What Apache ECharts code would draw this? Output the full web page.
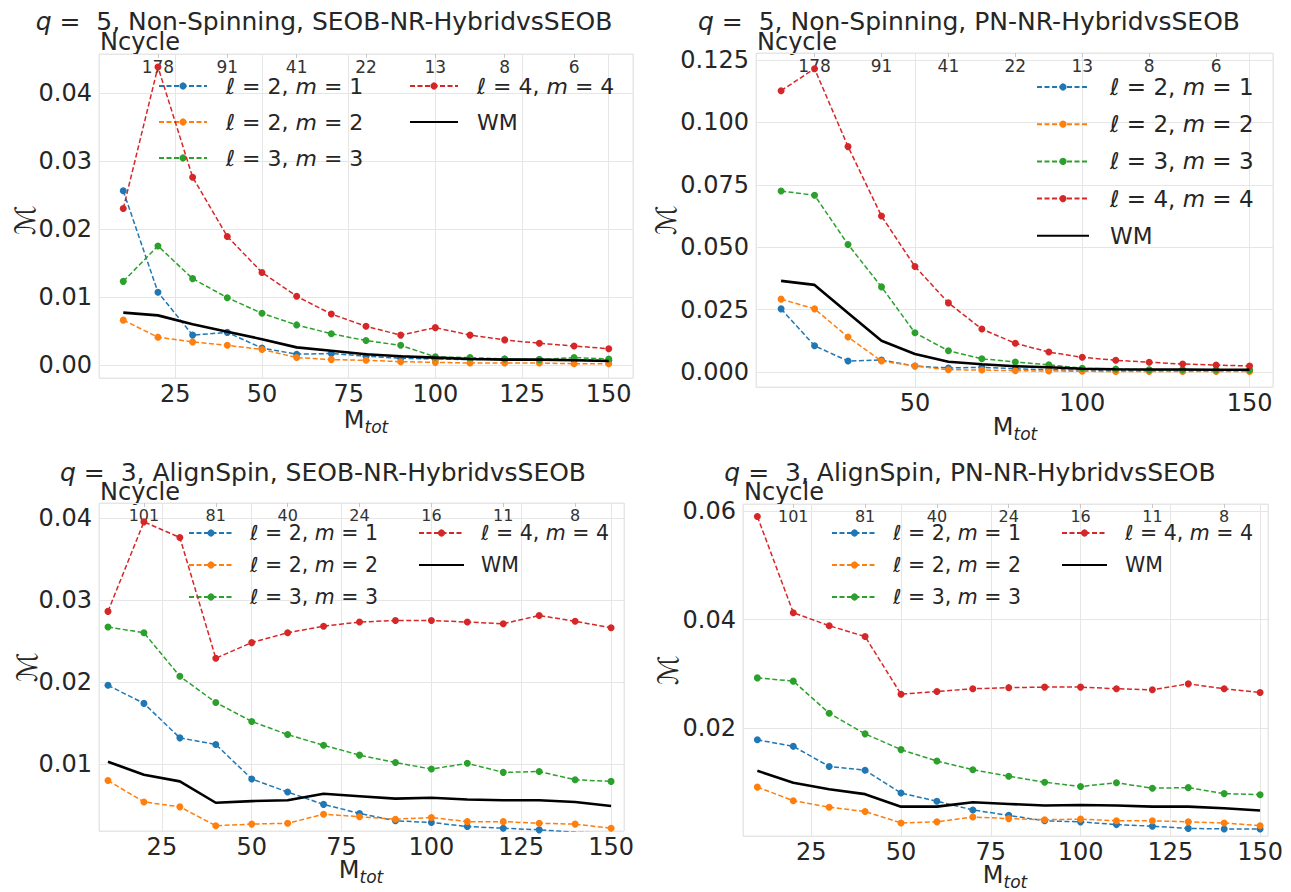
<!DOCTYPE html>
<html>
<head>
<meta charset="utf-8">
<script src="https://cdn.jsdelivr.net/npm/echarts@6/dist/echarts.min.js"></script>
<style>
html,body{margin:0;padding:0;background:#fff;}
#chart{width:1291px;height:892px;}
</style>
</head>
<body>
<div id="chart"></div>
<script>
// ---------------- data ----------------
const mtot = [10, 20, 30, 40, 50, 60, 70, 80, 90, 100, 110, 120, 130, 140, 150];

const seriesNames = ['ℓ = 2, m = 1', 'ℓ = 2, m = 2', 'ℓ = 3, m = 3', 'ℓ = 4, m = 4', 'WM'];

// Panel 1: q=5, Non-Spinning, SEOB-NR-Hybrid vs SEOB
const p1L21 = [0.0256, 0.0107, 0.0044, 0.0048, 0.0025, 0.0016, 0.0017, 0.0013, 0.0010, 0.0009, 0.0008, 0.0009, 0.0008, 0.0007, 0.0007];
const p1L22 = [0.0066, 0.0041, 0.0034, 0.0029, 0.0023, 0.0011, 0.0008, 0.0007, 0.0005, 0.0004, 0.0003, 0.0003, 0.0003, 0.0002, 0.0002];
const p1L33 = [0.0123, 0.0175, 0.0127, 0.0099, 0.0076, 0.0059, 0.0046, 0.0036, 0.0029, 0.0012, 0.0011, 0.0009, 0.0008, 0.0011, 0.0009];
const p1L44 = [0.0230, 0.0438, 0.0276, 0.0189, 0.0136, 0.0101, 0.0075, 0.0057, 0.0044, 0.0055, 0.0044, 0.0037, 0.0032, 0.0028, 0.0024];
const p1WM  = [0.0077, 0.0073, 0.0060, 0.0049, 0.0038, 0.0026, 0.0021, 0.0016, 0.0013, 0.0011, 0.0009, 0.0008, 0.0008, 0.0007, 0.0006];

// Panel 2: q=5, Non-Spinning, PN-NR-Hybrid vs SEOB
const p2L21 = [0.0253, 0.0105, 0.0044, 0.0048, 0.0024, 0.0016, 0.0019, 0.0013, 0.0009, 0.0008, 0.0007, 0.0007, 0.0007, 0.0006, 0.0006];
const p2L22 = [0.0292, 0.0253, 0.0140, 0.0044, 0.0024, 0.0009, 0.0008, 0.0005, 0.0004, 0.0003, 0.0002, 0.0002, 0.0002, 0.0002, 0.0002];
const p2L33 = [0.0725, 0.0708, 0.0511, 0.0341, 0.0157, 0.0085, 0.0053, 0.0040, 0.0029, 0.0015, 0.0012, 0.0009, 0.0009, 0.0009, 0.0008];
const p2L44 = [0.1127, 0.1215, 0.0903, 0.0625, 0.0423, 0.0277, 0.0172, 0.0115, 0.0080, 0.0059, 0.0047, 0.0039, 0.0032, 0.0028, 0.0024];
const p2WM  = [0.0365, 0.0349, 0.0236, 0.0125, 0.0072, 0.0041, 0.0031, 0.0023, 0.0019, 0.0013, 0.0011, 0.0010, 0.0010, 0.0009, 0.0009];

// Panel 3: q=3, AlignSpin, SEOB-NR-Hybrid vs SEOB
const p3L21 = [0.0196, 0.0174, 0.0132, 0.0124, 0.0082, 0.0066, 0.0051, 0.0040, 0.0031, 0.0029, 0.0024, 0.0022, 0.0020, 0.0017, 0.0016];
const p3L22 = [0.0080, 0.0054, 0.0048, 0.0025, 0.0027, 0.0028, 0.0039, 0.0036, 0.0033, 0.0035, 0.0030, 0.0030, 0.0028, 0.0027, 0.0022];
const p3L33 = [0.0267, 0.0260, 0.0207, 0.0175, 0.0152, 0.0136, 0.0123, 0.0111, 0.0102, 0.0094, 0.0101, 0.0090, 0.0091, 0.0081, 0.0079];
const p3L44 = [0.0286, 0.0395, 0.0376, 0.0229, 0.0248, 0.0260, 0.0268, 0.0273, 0.0275, 0.0275, 0.0273, 0.0271, 0.0281, 0.0274, 0.0266];
const p3WM  = [0.0103, 0.0087, 0.0079, 0.0053, 0.0055, 0.0056, 0.0064, 0.0061, 0.0058, 0.0059, 0.0057, 0.0056, 0.0056, 0.0054, 0.0049];

// Panel 4: q=3, AlignSpin, PN-NR-Hybrid vs SEOB
const p4L21 = [0.0179, 0.0167, 0.0130, 0.0123, 0.0081, 0.0066, 0.0050, 0.0040, 0.0030, 0.0028, 0.0023, 0.0020, 0.0016, 0.0015, 0.0015];
const p4L22 = [0.0092, 0.0067, 0.0055, 0.0047, 0.0026, 0.0028, 0.0037, 0.0034, 0.0032, 0.0033, 0.0030, 0.0030, 0.0028, 0.0026, 0.0021];
const p4L33 = [0.0293, 0.0287, 0.0228, 0.0190, 0.0161, 0.0140, 0.0124, 0.0112, 0.0101, 0.0093, 0.0100, 0.0090, 0.0091, 0.0080, 0.0078];
const p4L44 = [0.0590, 0.0413, 0.0389, 0.0369, 0.0263, 0.0268, 0.0273, 0.0275, 0.0276, 0.0276, 0.0273, 0.0271, 0.0282, 0.0273, 0.0266];
const p4WM  = [0.0122, 0.0100, 0.0088, 0.0079, 0.0056, 0.0056, 0.0064, 0.0061, 0.0058, 0.0059, 0.0058, 0.0056, 0.0056, 0.0053, 0.0049];

// Top (Ncycle) axis
const ncycleTicks = [20, 40, 60, 80, 100, 120, 140];
const ncycleNonSpin = ['178', '91', '41', '22', '13', '8', '6'];
const ncycleAlign = ['101', '81', '40', '24', '16', '11', '8'];

const titles = [
  'q =  5, Non-Spinning, SEOB-NR-HybridvsSEOB',
  'q =  5, Non-Spinning, PN-NR-HybridvsSEOB',
  'q =  3, AlignSpin, SEOB-NR-HybridvsSEOB',
  'q =  3, AlignSpin, PN-NR-HybridvsSEOB'
];

// ---------------- layout / style ----------------
const FONT = 'DejaVu Sans';
const TXT = '#262626';
const GRIDC = '#e6e6e6';
const colors = ['#1f77b4', '#ff7f0e', '#2ca02c', '#d62728', '#000000'];

const panels = [
  { grid: {left: 99, top: 54, width: 534, height: 324}, x: [3, 157], xInt: 25, y: [-0.0019, 0.0457], yInt: 0.01, yDec: 2,
    data: [p1L21, p1L22, p1L33, p1L44, p1WM], ncyc: ncycleNonSpin, topFs: 17,
    title: [324, 21], ncLabel: [100, 42], yLab: [25, 220], xLab: [366, 420] },
  { grid: {left: 756, top: 53, width: 517, height: 334}, x: [2.5, 157], xInt: 50, y: [-0.006, 0.1278], yInt: 0.025, yDec: 3,
    data: [p2L21, p2L22, p2L33, p2L44, p2WM], ncyc: ncycleNonSpin, topFs: 17,
    title: [969, 21], ncLabel: [757, 42], yLab: [666, 220], xLab: [1015, 427] },
  { grid: {left: 99, top: 503, width: 525, height: 328}, x: [7.5, 153.6], xInt: 25, y: [0.00186, 0.0418], yInt: 0.01, yDec: 2,
    data: [p3L21, p3L22, p3L33, p3L44, p3WM], ncyc: ncycleAlign, topFs: 16,
    title: [323, 472], ncLabel: [100, 492], yLab: [27, 667], xLab: [361, 870] },
  { grid: {left: 743, top: 504, width: 525, height: 332}, x: [6, 152.2], xInt: 25, y: [0.0002, 0.0613], yInt: 0.02, yDec: 2,
    data: [p4L21, p4L22, p4L33, p4L44, p4WM], ncyc: ncycleAlign, topFs: 16,
    title: [970, 472], ncLabel: [744, 492], yLab: [668, 670], xLab: [1005, 875] }
];

const grids = [], xAxes = [], yAxes = [], series = [], graphics = [];

panels.forEach((p, i) => {
  grids.push(Object.assign({show: true, borderColor: GRIDC, borderWidth: 1, backgroundColor: '#fff'}, p.grid));
  // bottom x axis
  xAxes.push({
    type: 'value', gridIndex: i, position: 'bottom', min: p.x[0], max: p.x[1],
    minInterval: p.xInt, maxInterval: p.xInt,
    axisLine: {show: false}, axisTick: {show: false},
    splitLine: {show: true, lineStyle: {color: GRIDC, width: 1}},
    axisLabel: {show: true, showMinLabel: false, showMaxLabel: false, margin: 4,
      fontFamily: FONT, fontSize: 24, color: TXT, formatter: v => String(v)}
  });
  // y axis
  yAxes.push({
    type: 'value', gridIndex: i, min: p.y[0], max: p.y[1],
    minInterval: p.yInt, maxInterval: p.yInt,
    axisLine: {show: false}, axisTick: {show: false},
    splitLine: {show: true, lineStyle: {color: GRIDC, width: 1}},
    axisLabel: {show: true, showMinLabel: false, showMaxLabel: false, margin: 7,
      fontFamily: FONT, fontSize: 24, color: TXT, formatter: v => v.toFixed(p.yDec)}
  });
  // series
  p.data.forEach((vals, k) => {
    const isWM = k === 4;
    series.push({
      type: 'line', name: seriesNames[k], xAxisIndex: i, yAxisIndex: i,
      data: mtot.map((m, j) => [m, vals[j]]),
      symbol: isWM ? 'none' : 'circle', symbolSize: 7,
      itemStyle: {color: colors[k]},
      lineStyle: isWM ? {color: colors[k], width: 2.6, type: 'solid'} : {color: colors[k], width: 1.5, type: [5, 2.5]},
      clip: true, z: 2 + k, animation: false
    });
  });
  // graphics: title, Ncycle, axis names
  graphics.push({
    type: 'text', x: p.title[0], y: p.title[1],
    style: {text: '{i|q} ' + titles[i].slice(2), fill: TXT, font: '25px "' + FONT + '"', align: 'center', verticalAlign: 'middle',
      rich: {i: {fontStyle: 'italic', fontSize: 25, fontFamily: FONT, fill: TXT}}}
  });
  graphics.push({
    type: 'text', x: p.ncLabel[0], y: p.ncLabel[1],
    style: {text: 'Ncycle', fill: TXT, font: '24px "' + FONT + '"', align: 'left', verticalAlign: 'middle'}
  });
  graphics.push({
    type: 'text', x: p.yLab[0], y: p.yLab[1], rotation: Math.PI / 2,
    style: {text: 'ℳ', fill: TXT, font: '28px "' + FONT + '"', align: 'center', verticalAlign: 'middle'}
  });
  graphics.push({
    type: 'text', x: p.xLab[0], y: p.xLab[1],
    style: {text: '{m|M}{s|tot}', fill: TXT, align: 'center', verticalAlign: 'middle',
      rich: {m: {fontSize: 24, fontFamily: FONT, fill: TXT, lineHeight: 30, verticalAlign: 'middle'},
             s: {fontSize: 17, fontFamily: FONT, fontStyle: 'italic', fill: TXT, lineHeight: 17, verticalAlign: 'bottom'}}}
  });
});

// top Ncycle axes
panels.forEach((p, i) => {
  xAxes.push({
    type: 'value', gridIndex: i, position: 'top', min: p.x[0], max: p.x[1],
    axisLine: {show: false}, splitLine: {show: false},
    axisTick: {show: true, inside: true, length: 4, customValues: ncycleTicks, lineStyle: {color: '#c8c8c8'}},
    axisLabel: {show: true, inside: true, margin: 4, customValues: ncycleTicks,
      fontFamily: FONT, fontSize: p.topFs, color: '#333',
      formatter: v => { const idx = ncycleTicks.indexOf(Math.round(v)); return idx >= 0 ? p.ncyc[idx] : ''; }}
  });
});

function legendCfg(names, left, top, itemWidth, gap, fs, sp) {
  return {
    orient: 'vertical', left: left, top: top, padding: 0,
    itemWidth: itemWidth, itemHeight: 9, itemGap: gap,
    selectedMode: false,
    data: names.map(n => n === 'WM' ? {name: 'WM', itemStyle: {opacity: 0}} : n),
    formatter: n => '{sp| }' + (n === 'WM' ? 'WM' : n.replace('m', '{i|m}')),
    textStyle: {fontFamily: FONT, fontSize: fs, color: TXT, lineHeight: 26,
      rich: {sp: {width: sp, fontSize: fs}, i: {fontStyle: 'italic', fontSize: fs, fontFamily: FONT, color: TXT}}}
  };
}

const legends = [
  legendCfg(seriesNames.slice(0, 3), 158, 73, 48, 10, 22, 14),
  legendCfg(seriesNames.slice(3), 409, 73, 48, 10, 22, 14),
  legendCfg(seriesNames, 1036, 74, 52, 11.2, 23, 16),
  legendCfg(seriesNames.slice(0, 3), 188, 520, 44, 6, 20.5, 12),
  legendCfg(seriesNames.slice(3), 418, 520, 45, 6, 20.5, 12),
  legendCfg(seriesNames.slice(0, 3), 831, 520, 45, 6, 20.5, 11),
  legendCfg(seriesNames.slice(3), 1061, 520, 45, 6, 20.5, 13)
];

const chart = echarts.init(document.getElementById('chart'), null, {renderer: 'svg'});
chart.setOption({
  animation: false,
  backgroundColor: '#fff',
  textStyle: {fontFamily: FONT},
  grid: grids,
  xAxis: xAxes,
  yAxis: yAxes,
  legend: legends,
  series: series,
  graphic: graphics
});
</script>
</body>
</html>
